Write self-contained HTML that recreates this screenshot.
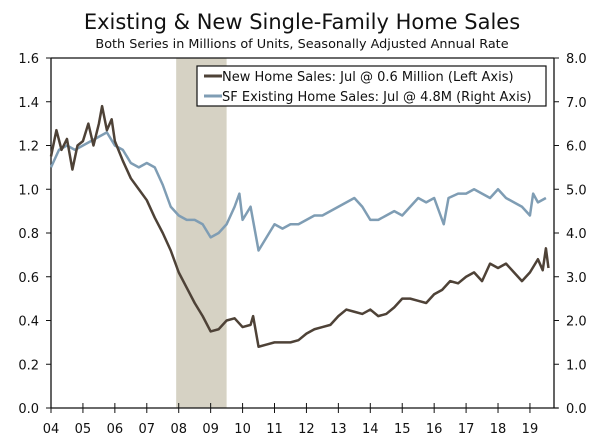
<!DOCTYPE html>
<html><head><meta charset="utf-8"><style>
body{margin:0;background:#fff;}
svg{display:block;font-family:"DejaVu Sans","Liberation Sans",sans-serif;}
</style></head><body>
<svg id="chart" width="600" height="439">
<text x="302" y="29" text-anchor="middle" font-size="21" fill="#111">Existing &amp; New Single-Family Home Sales</text>
<text x="302" y="48" text-anchor="middle" font-size="12.8" fill="#111">Both Series in Millions of Units, Seasonally Adjusted Annual Rate</text>
<g id="plot"></g>
</svg>
<script>
const years = ["04","05","06","07","08","09","10","11","12","13","14","15","16","17","18","19"];
const leftTicks = ["0.0","0.2","0.4","0.6","0.8","1.0","1.2","1.4","1.6"];
const rightTicks = ["0.0","1.0","2.0","3.0","4.0","5.0","6.0","7.0","8.0"];
const recession = [2007.92, 2009.5];
const newDates = [2004.0,2004.17,2004.33,2004.5,2004.67,2004.83,2005.0,2005.17,2005.33,2005.5,2005.6,2005.75,2005.9,2006.0,2006.25,2006.5,2006.75,2007.0,2007.25,2007.5,2007.75,2008.0,2008.25,2008.5,2008.75,2009.0,2009.25,2009.5,2009.75,2010.0,2010.25,2010.33,2010.5,2010.75,2011.0,2011.25,2011.5,2011.75,2012.0,2012.25,2012.5,2012.75,2013.0,2013.25,2013.5,2013.75,2014.0,2014.25,2014.5,2014.75,2015.0,2015.25,2015.5,2015.75,2016.0,2016.25,2016.5,2016.75,2017.0,2017.25,2017.5,2017.75,2018.0,2018.25,2018.5,2018.75,2019.0,2019.25,2019.4,2019.5,2019.58];
const newSales = [1.15,1.27,1.18,1.23,1.09,1.2,1.22,1.3,1.2,1.3,1.38,1.27,1.32,1.22,1.13,1.05,1.0,0.95,0.87,0.8,0.72,0.62,0.55,0.48,0.42,0.35,0.36,0.4,0.41,0.37,0.38,0.42,0.28,0.29,0.3,0.3,0.3,0.31,0.34,0.36,0.37,0.38,0.42,0.45,0.44,0.43,0.45,0.42,0.43,0.46,0.5,0.5,0.49,0.48,0.52,0.54,0.58,0.57,0.6,0.62,0.58,0.66,0.64,0.66,0.62,0.58,0.62,0.68,0.63,0.73,0.64];
const exDates = [2004.0,2004.25,2004.5,2004.75,2005.0,2005.25,2005.5,2005.75,2006.0,2006.25,2006.5,2006.75,2007.0,2007.25,2007.5,2007.75,2008.0,2008.25,2008.5,2008.75,2009.0,2009.25,2009.5,2009.75,2009.9,2010.0,2010.25,2010.5,2010.75,2011.0,2011.25,2011.5,2011.75,2012.0,2012.25,2012.5,2012.75,2013.0,2013.25,2013.5,2013.75,2014.0,2014.25,2014.5,2014.75,2015.0,2015.25,2015.5,2015.75,2016.0,2016.3,2016.45,2016.75,2017.0,2017.25,2017.5,2017.75,2018.0,2018.25,2018.5,2018.75,2019.0,2019.1,2019.25,2019.5];
const exSales = [5.5,5.9,6.0,5.9,6.0,6.1,6.2,6.3,6.0,5.9,5.6,5.5,5.6,5.5,5.1,4.6,4.4,4.3,4.3,4.2,3.9,4.0,4.2,4.6,4.9,4.3,4.6,3.6,3.9,4.2,4.1,4.2,4.2,4.3,4.4,4.4,4.5,4.6,4.7,4.8,4.6,4.3,4.3,4.4,4.5,4.4,4.6,4.8,4.7,4.8,4.2,4.8,4.9,4.9,5.0,4.9,4.8,5.0,4.8,4.7,4.6,4.4,4.9,4.7,4.8];

const NS="http://www.w3.org/2000/svg";
const X0=51, X1=554, Y0=408, Y1=58, PER=31.93;
const xs=d=>X0+(d-2004)*PER;
const yl=v=>Y0-v/1.6*(Y0-Y1);
const yr=v=>Y0-v/8*(Y0-Y1);
const g=document.getElementById('plot');
function mk(t,a,txt){const e=document.createElementNS(NS,t);for(const k in a)e.setAttribute(k,a[k]);if(txt!==undefined)e.textContent=txt;g.appendChild(e);return e;}

let r=mk('rect',{x:xs(recession[0]),y:Y1,width:xs(recession[1])-xs(recession[0]),height:Y0-Y1,fill:'#d6d2c4'});



let ax=mk('path',{d:`M${X0},${Y1}H${X1}M${X0},${Y1}V${Y0}H${X1+4}M${X1},${Y1}V${Y0}`,stroke:'#111','stroke-width':1.3,fill:'none'});



leftTicks.forEach((t,i)=>{const y=Y0-i*(Y0-Y1)/8;
 mk('line',{x1:X0-5,x2:X0,y1:y,y2:y,stroke:'#111'});
 const e=mk('text',{x:X0-12,y:y+5,'text-anchor':'end','font-size':13,fill:'#111'},t);
 
 });
rightTicks.forEach((t,i)=>{const y=Y0-i*(Y0-Y1)/8;
 mk('line',{x1:X1,x2:X1+5,y1:y,y2:y,stroke:'#111'});
 const e=mk('text',{x:X1+12,y:y+5,'text-anchor':'start','font-size':13,fill:'#111'},t);
 
 });
years.forEach((t,i)=>{const x=xs(2004+i);
 mk('line',{x1:x,x2:x,y1:Y0-5,y2:Y0+5,stroke:'#111'});
 const e=mk('text',{x:x,y:Y0+25,'text-anchor':'middle','font-size':13,fill:'#111'},t);
 
 });

let pe=mk('polyline',{points:exDates.map((d,i)=>xs(d)+','+yr(exSales[i])).join(' '),fill:'none',stroke:'#7f9db4','stroke-width':2.5,'stroke-linejoin':'round'});


let pn=mk('polyline',{points:newDates.map((d,i)=>xs(d)+','+yl(newSales[i])).join(' '),fill:'none',stroke:'#4e4237','stroke-width':2.5,'stroke-linejoin':'round'});



let lb=mk('rect',{x:197,y:66,width:349,height:40,fill:'#fff',stroke:'#111','stroke-width':1.2});


mk('line',{x1:204,x2:222,y1:76,y2:76,stroke:'#4e4237','stroke-width':3});
let l1=mk('text',{x:222,y:81,'font-size':13,fill:'#111'},'New Home Sales: Jul @ 0.6 Million (Left Axis)');


mk('line',{x1:204,x2:222,y1:96,y2:96,stroke:'#7f9db4','stroke-width':3});
let l2=mk('text',{x:222,y:101,'font-size':13,fill:'#111'},'SF Existing Home Sales: Jul @ 4.8M (Right Axis)');


</script>
</body></html>
